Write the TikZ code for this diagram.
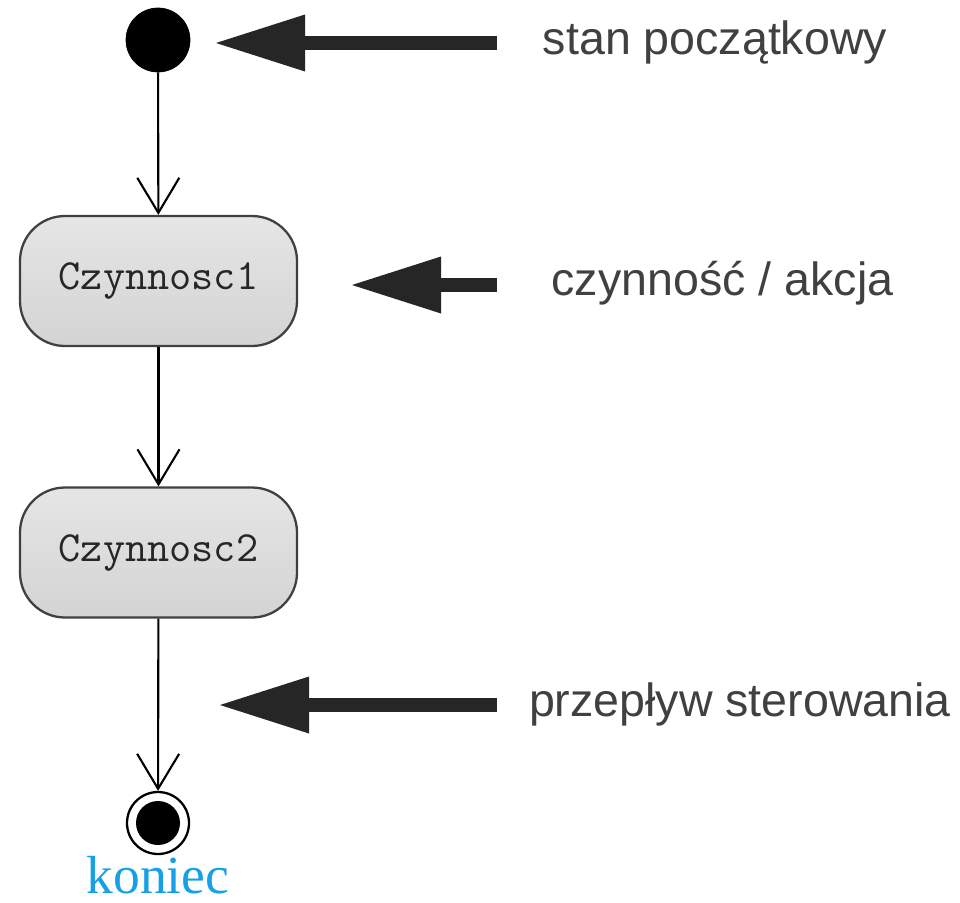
\documentclass[tikz,border=0pt]{standalone}
\usepackage{fontspec}
\setmainfont{Liberation Sans}
\newfontfamily\timesfont{Liberation Serif}
\usetikzlibrary{arrows.meta}
\definecolor{pointergray}{RGB}{38,38,38}
\definecolor{labelgray}{RGB}{64,64,64}
\definecolor{koniecblue}{RGB}{22,160,232}
\tikzset{
  action/.style={rounded corners=0.9cm,draw=labelgray,line width=1.3pt,top color=black!10,bottom color=black!17,minimum width=5.54cm,minimum height=2.6cm,text=black!85,font=\ttfamily\fontsize{24.5}{28}\selectfont},
  flow/.style={draw,line width=1.2pt,-{Straight Barb[length=0.7cm,width=0.84cm,line width=1.2pt]}},
  pointer/.style={draw=pointergray,line width=0.28cm,-{Triangle[length=1.78cm,width=1.14cm,line width=0pt,fill=pointergray]}},
  note/.style={text=labelgray,font=\fontsize{26.5}{30}\selectfont}
}
\begin{document}
\begin{tikzpicture}
\useasboundingbox (0,0) rectangle (19.2,-18.04);
\node[style={circle,fill=black,draw,minimum size=1.28cm,inner sep=0pt}] (start) at (3.16,-0.8) {};
\node[action] (c1) at (3.17,-5.62) {Czynnosc1};
\node[action] (c2) at (3.17,-11.05) {Czynnosc2};
\node[style={circle,draw,line width=1.3pt,minimum size=1.24cm,inner sep=0pt}] (end) at (3.16,-16.46) {};
\node[style={circle,fill=black,minimum size=0.88cm,inner sep=0pt}] (endin) at (end) {};
\node[text=koniecblue,anchor=base,inner sep=0pt,font=\timesfont\fontsize{30.5}{32}\selectfont] (koniec) at (3.16,-17.86) {koniec};
\node[note] (n1) at (14.3,-0.84) {stan początkowy};
\node[note] (n2) at (14.45,-5.66) {czynność / akcja};
\node[note] (n3) at (14.8,-14.08) {przepływ sterowania};
\coordinate (t1) at (4.32,-0.86);
\coordinate (s1) at (9.94,-0.86);
\coordinate (t2) at (7.04,-5.7);
\coordinate (s2) at (9.94,-5.7);
\coordinate (t3) at (4.4,-14.1);
\coordinate (s3) at (9.94,-14.1);
\path[flow](start) edge node {} (c1);
\path[flow](c1) edge node {} (c2);
\path[flow](c2) edge node {} (end);
\draw[pointer](s1) -- (t1);
\draw[pointer](s2) -- (t2);
\draw[pointer](s3) -- (t3);
\end{tikzpicture}
\end{document}
